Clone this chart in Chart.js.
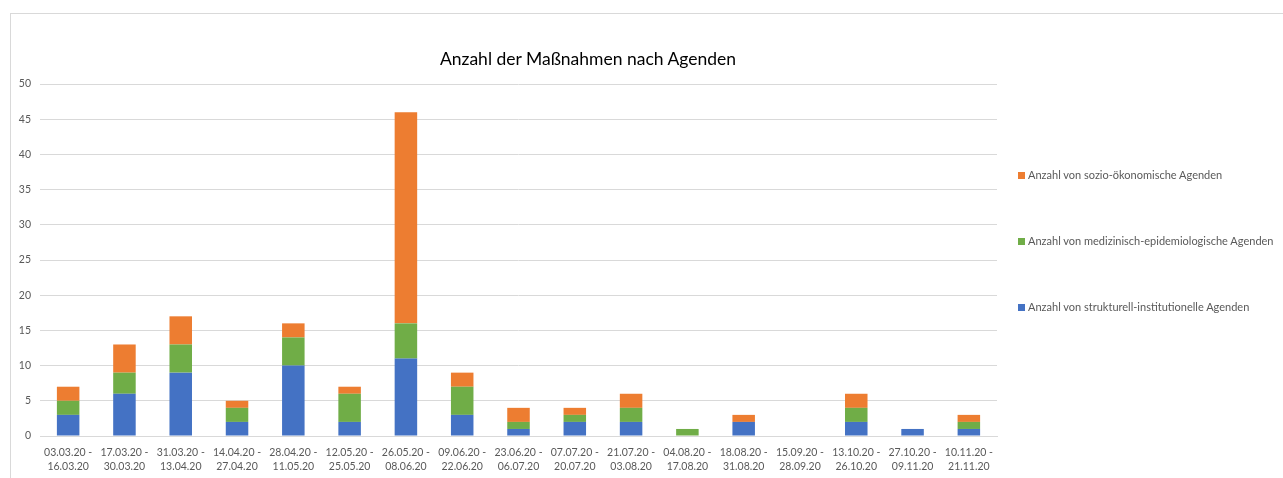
<!DOCTYPE html>
<html>
<head>
<meta charset="utf-8">
<script src="https://cdn.jsdelivr.net/npm/chart.js@4.4.1/dist/chart.umd.min.js"></script>
<style>
  html, body { margin: 0; padding: 0; background: #fff; overflow: hidden; }
  #wrap { position: relative; width: 1283px; height: 478px; }
  #frame { position: absolute; left: 10px; top: 13px; width: 1300px; height: 500px; border: 1px solid #d9d9d9; box-sizing: border-box; }
  canvas { position: absolute; left: 0; top: 0; }
  #title { position: absolute; left: 0; width: 1176px; top: 48px; text-align: center; font-family: Lato, "Liberation Sans", sans-serif; font-size: 17.5px; line-height: 22px; color: #000; white-space: nowrap; }
  .leg { position: absolute; left: 1018px; font-family: Lato, "Liberation Sans", sans-serif; font-size: 11px; color: #595959; white-space: nowrap; line-height: 12px; }
  .leg span.box { display: inline-block; width: 7px; height: 7px; margin-right: 3px; vertical-align: 0px; }
</style>
</head>
<body>
<div id="wrap">
  <div id="frame"></div>
  <canvas id="c" width="1283" height="478"></canvas>
  <div id="title"></div>
  <div id="legend"></div>
</div>
<script>
const categories = [
  ["03.03.20 -", "16.03.20"], ["17.03.20 -", "30.03.20"], ["31.03.20 -", "13.04.20"],
  ["14.04.20 -", "27.04.20"], ["28.04.20 -", "11.05.20"], ["12.05.20 -", "25.05.20"],
  ["26.05.20 -", "08.06.20"], ["09.06.20 -", "22.06.20"], ["23.06.20 -", "06.07.20"],
  ["07.07.20 -", "20.07.20"], ["21.07.20 -", "03.08.20"], ["04.08.20 -", "17.08.20"],
  ["18.08.20 -", "31.08.20"], ["15.09.20 -", "28.09.20"], ["13.10.20 -", "26.10.20"],
  ["27.10.20 -", "09.11.20"], ["10.11.20 -", "21.11.20"]
];
const strukturell = [3, 6, 9, 2, 10, 2, 11, 3, 1, 2, 2, 0, 2, 0, 2, 1, 1];
const medizinisch = [2, 3, 4, 2, 4, 4, 5, 4, 1, 1, 2, 1, 0, 0, 2, 0, 1];
const sozio       = [2, 4, 4, 1, 2, 1, 30, 2, 2, 1, 2, 0, 1, 0, 2, 0, 1];
const seriesNames = [
  "Anzahl von strukturell-institutionelle Agenden",
  "Anzahl von medizinisch-epidemiologische Agenden",
  "Anzahl von sozio-ökonomische Agenden"
];
const seriesColors = ["#4472C4", "#70AD47", "#ED7D31"];
const titleText = "Anzahl der Maßnahmen nach Agenden";

document.getElementById("title").textContent = titleText;

const seriesData = [strukturell, medizinisch, sozio];
const datasets = seriesNames.map((name, i) => ({
  label: name,
  data: seriesData[i],
  backgroundColor: seriesColors[i],
  borderWidth: 0,
  stack: "s",
  barPercentage: 0.4,
  categoryPercentage: 1.0
}));

new Chart(document.getElementById("c"), {
  type: "bar",
  data: { labels: categories, datasets },
  options: {
    responsive: false,
    animation: false,
    layout: { padding: { left: 10, right: 286, top: 84, bottom: 0 } },
    plugins: {
      legend: { display: false },
      tooltip: { enabled: false },
      title: { display: false }
    },
    scales: {
      x: {
        stacked: true,
        grid: { display: false, drawTicks: false },
        border: { display: true, color: "#d9d9d9", width: 1 },
        ticks: {
          color: "#595959",
          font: { family: "Lato, 'Liberation Sans', sans-serif", size: 10.5, lineHeight: 1.4 },
          padding: 9,
          maxRotation: 0,
          autoSkip: false
        },
        afterFit: s => { s.height = 42; }
      },
      y: {
        stacked: true,
        min: 0,
        max: 50,
        grid: { color: "#d9d9d9", drawTicks: false },
        border: { display: false },
        ticks: {
          stepSize: 5,
          color: "#595959",
          font: { family: "Lato, 'Liberation Sans', sans-serif", size: 10.5 },
          padding: 9
        },
        afterFit: s => { s.width = 30; }
      }
    }
  }
});

const legendEl = document.getElementById("legend");
const legendTops = [169, 235, 301];
[2, 1, 0].forEach((idx, k) => {
  const d = document.createElement("div");
  d.className = "leg";
  d.style.top = legendTops[k] + "px";
  d.innerHTML = '<span class="box" style="background:' + seriesColors[idx] + '"></span>';
  d.appendChild(document.createTextNode(seriesNames[idx]));
  legendEl.appendChild(d);
});
</script>
</body>
</html>
